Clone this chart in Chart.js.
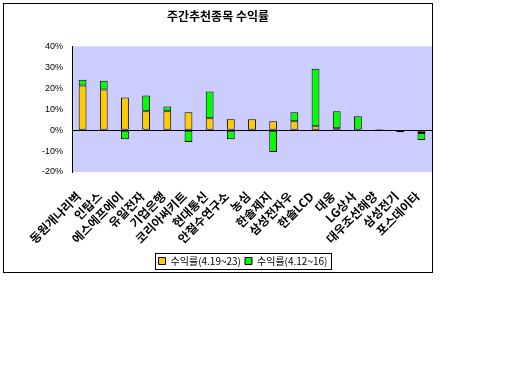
<!DOCTYPE html>
<html>
<head>
<meta charset="utf-8">
<script src="https://cdn.jsdelivr.net/npm/chart.js@4"></script>
<style>
    body { margin: 0; background: #fff; }
    #wrap { width: 512px; height: 384px; }
</style>
</head>
<body>
<div id="wrap"><canvas id="chart" width="512" height="384"></canvas></div>
<script>
// Stock names (x axis)
const stocks = ["동원개나리벽", "인탑스", "에스에프에이", "유일전자", "기업은행", "코리아써키트", "현대통신",
    "안철수연구소", "농심", "한솔제지", "삼성전자우", "한솔LCD", "대웅", "LG상사", "대우조선해양", "삼성전기", "포스데이타"];

// Weekly returns in percent
const returnA = [21.3, 19.4, 15.6, 9.0, 9.0, 8.5, 5.7, 5.2, 5.2, 4.3, 4.3, 1.9, 0.9, 0.2, 0.4, -1.0, -1.4];
const returnB = [2.8, 4.2, -4.3, 7.5, 2.3, -5.7, 12.7, -4.3, -0.5, -10.4, 4.2, 27.4, 8.1, 6.4, 0.2, 0, -3.3];

const seriesNames = ["수익률(4.19~23)", "수익률(4.12~16)"];
const yTicks = [-20, -10, 0, 10, 20, 30, 40];

// Frame around the whole chart and lavender plot background
const framePlugin = {
    id: "frame",
    afterLayout(chart) {
        // move the legend a little left, like the original
        const lg = chart.legend;
        lg.left -= 9;
        lg.right -= 9;
    },
    beforeDraw(chart) {
        const ctx = chart.ctx;
        const a = chart.chartArea;
        ctx.save();
        ctx.fillStyle = "#fff";
        ctx.fillRect(0, 0, chart.width, chart.height);
        ctx.fillStyle = "#CCCCFF";
        ctx.fillRect(a.left, a.top, a.right - a.left, a.bottom - a.top);
        ctx.strokeStyle = "#000";
        ctx.lineWidth = 1;
        ctx.strokeRect(3.5, 3.5, 429, 269);
        ctx.restore();
    },
    afterDraw(chart) {
        // border round the legend
        const lg = chart.legend;
        const pad = lg.options.labels.padding;
        const w = lg.lineWidths[0] - pad;
        const x0 = (lg.left + pad + lg.right - lg.lineWidths[0]) / 2;
        const y0 = lg.top + pad;
        const ctx = chart.ctx;
        ctx.save();
        ctx.strokeStyle = "#000";
        ctx.lineWidth = 1;
        ctx.strokeRect(Math.round(x0 - 4) + 0.5, Math.round(y0 - 3) + 0.5, Math.round(w + 7), 16);
        ctx.restore();
    }
};

const ctx = document.getElementById("chart").getContext("2d");

new Chart(ctx, {
    type: "bar",
    data: {
        labels: stocks,
        datasets: [
            {
                label: seriesNames[0],
                data: returnA,
                backgroundColor: "#FFCC00",
                borderColor: "#000",
                borderWidth: 1,
                borderSkipped: false
            },
            {
                label: seriesNames[1],
                data: returnB,
                backgroundColor: "#00FF00",
                borderColor: "#000",
                borderWidth: 1,
                borderSkipped: false
            }
        ]
    },
    options: {
        responsive: false,
        animation: false,
        layout: { padding: { left: 4, right: 80, top: 4, bottom: 108 } },
        datasets: {
            bar: { categoryPercentage: 1, barPercentage: 0.37 }
        },
        plugins: {
            title: {
                display: true,
                text: "주간추천종목 수익률",
                color: "#000",
                font: { family: "'Noto Sans CJK KR'", size: 12, weight: "bold" },
                padding: { top: 5, bottom: 23 }
            },
            legend: {
                position: "bottom",
                fullSize: false,
                labels: {
                    color: "#000",
                    boxWidth: 7,
                    boxHeight: 7,
                    padding: 4,
                    font: { family: "'Noto Sans CJK KR'", size: 10 }
                }
            },
            tooltip: { enabled: false }
        },
        scales: {
            x: {
                stacked: true,
                grid: { display: false },
                border: { display: false },
                afterFit: (scale) => { scale.height = 80; },
                ticks: {
                    autoSkip: false,
                    minRotation: 45,
                    maxRotation: 45,
                    padding: 9,
                    labelOffset: -4,
                    color: "#000",
                    font: { family: "'Noto Sans CJK KR'", size: 12, weight: "bold" }
                }
            },
            y: {
                stacked: true,
                min: yTicks[0],
                max: yTicks[yTicks.length - 1],
                afterFit: (scale) => { scale.width = 68; },
                afterBuildTicks: (scale) => { scale.ticks = yTicks.map(v => ({ value: v })); },
                grid: {
                    drawTicks: false,
                    color: (c) => (c.tick && c.tick.value === 0 ? "#000" : "rgba(0,0,0,0)"),
                    lineWidth: 1
                },
                border: { display: true, color: "#000", width: 1 },
                ticks: {
                    padding: 9,
                    color: "#000",
                    font: { family: "'Liberation Sans', Arial", size: 9 },
                    callback: (v) => v + "%"
                }
            }
        }
    },
    plugins: [framePlugin]
});
</script>
</body>
</html>
